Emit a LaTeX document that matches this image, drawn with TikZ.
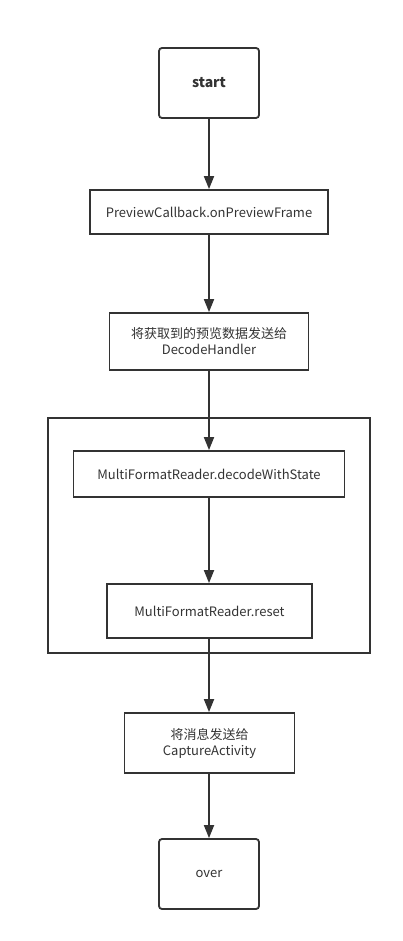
\documentclass[tikz,border=0pt]{standalone}
\usepackage{fontspec}
\setmainfont{Noto Sans CJK SC}
\usetikzlibrary{arrows.meta}
\definecolor{ink}{HTML}{333333}
\tikzset{
  box/.style={draw=ink, line width=1.8pt, text=ink, align=center, inner sep=0pt,
    font=\fontsize{13}{16}\selectfont},
  term/.style={box, rounded corners=3pt, minimum width=100pt, minimum height=70pt},
  flow/.style={draw=ink, line width=1.8pt, -{Triangle[width=10pt,length=13pt]}}
}
\begin{document}
\begin{tikzpicture}[x=1pt,y=-1pt]
\useasboundingbox (0,0) rectangle (402,941);
\node[term, font=\fontsize{14}{16}\selectfont\bfseries] (start) at (209,83) {start};
\node[box, minimum width=238pt, minimum height=44pt] (prev) at (209,212) {PreviewCallback.onPreviewFrame};
\node[box, minimum width=199pt, minimum height=57pt] (send) at (209,341.5) {将获取到的预览数据发送给\\DecodeHandler};
\node[box, minimum width=322pt, minimum height=235pt] (grp) at (209,535.5) {};
\node[box, minimum width=271pt, minimum height=46pt] (dec) at (209,474) {MultiFormatReader.decodeWithState};
\node[box, minimum width=205pt, minimum height=54pt] (reset) at (209.5,611) {MultiFormatReader.reset};
\node[box, minimum width=170pt, minimum height=60pt] (cap) at (209.5,743) {将消息发送给\\CaptureActivity};
\node[term] (over) at (209,874) {over};
\draw[flow] (start) -- (prev);
\draw[flow] (prev) -- (send);
\draw[flow] (send) -- (dec);
\draw[flow] (dec) -- (dec |- reset.north);
\draw[flow] (reset.south -| dec) -- (cap.north -| dec);
\draw[flow] (cap.south -| dec) -- (over);
\end{tikzpicture}
\end{document}
